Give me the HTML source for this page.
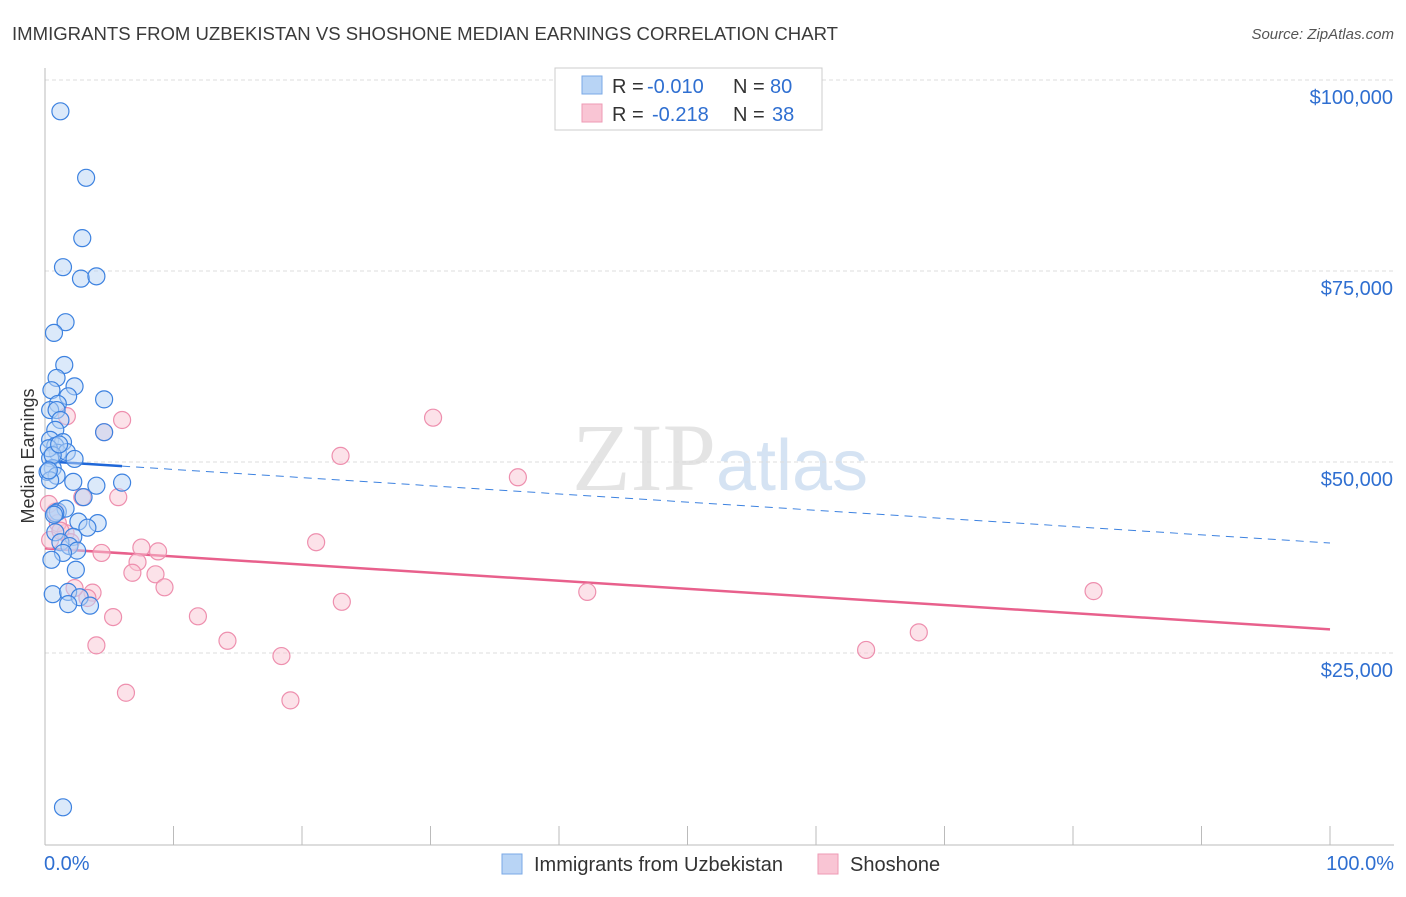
<!DOCTYPE html>
<html><head><meta charset="utf-8"><style>
body{margin:0;background:#fff;font-family:"Liberation Sans",sans-serif}
</style></head><body>
<svg id="chart" width="1406" height="892" xmlns="http://www.w3.org/2000/svg" font-family="Liberation Sans, sans-serif">
<text x="12" y="40" font-size="18" fill="#3a3a3a" textLength="826" lengthAdjust="spacingAndGlyphs">IMMIGRANTS FROM UZBEKISTAN VS SHOSHONE MEDIAN EARNINGS CORRELATION CHART</text>
<text x="1394" y="39" font-size="15" fill="#555" text-anchor="end" font-style="italic">Source: ZipAtlas.com</text>
<text x="720" y="490" font-size="96" text-anchor="middle" fill="#e4e4e4" font-family="Liberation Serif, serif">ZIP<tspan fill="#d5e3f3" font-family="Liberation Sans, sans-serif" font-size="72">atlas</tspan></text>
<text transform="translate(34,456) rotate(-90)" font-size="18" fill="#333" text-anchor="middle">Median Earnings</text>
<g id="grid"></g><g id="axes"></g><g id="trends"></g><g id="points"></g>
<g>
<rect x="555" y="68" width="267" height="62" fill="#fff" stroke="#ccc"/>
<rect x="582" y="76" width="20" height="18" fill="#b8d4f5" stroke="#7aa8e6"/>
<rect x="582" y="104" width="20" height="18" fill="#f9c5d4" stroke="#ee9ab4"/>
<text x="612" y="93" font-size="20" fill="#333">R =</text>
<text x="647" y="93" font-size="20" fill="#2f6fd1">-0.010</text>
<text x="733" y="93" font-size="20" fill="#333">N =</text>
<text x="770" y="93" font-size="20" fill="#2f6fd1">80</text>
<text x="612" y="121" font-size="20" fill="#333">R =</text>
<text x="652" y="121" font-size="20" fill="#2f6fd1">-0.218</text>
<text x="733" y="121" font-size="20" fill="#333">N =</text>
<text x="772" y="121" font-size="20" fill="#2f6fd1">38</text>
</g>
<g>
<rect x="502" y="854" width="20" height="20" fill="#b8d4f5" stroke="#7aa8e6"/>
<text x="534" y="871" font-size="20" fill="#333">Immigrants from Uzbekistan</text>
<rect x="818" y="854" width="20" height="20" fill="#f9c5d4" stroke="#ee9ab4"/>
<text x="850" y="871" font-size="20" fill="#333">Shoshone</text>
</g>
</svg>
<script>
const yTicks=[25000,50000,75000,100000];
const yTickLabels=["$25,000","$50,000","$75,000","$100,000"];
const xTickLabels=["0.0%","100.0%"];
const blueX=[1.2,3.2,2.9,1.4,2.8,4.0,1.6,0.7,1.5,0.9,2.3,0.5,4.6,1.8,1.0,0.4,0.9,1.2,0.8,4.6,0.4,1.4,0.8,1.0,1.7,0.4,2.3,0.6,0.2,0.9,0.4,6.0,2.2,4.0,3.0,1.0,1.6,0.8,4.1,2.6,3.3,0.8,2.2,1.2,1.9,2.5,1.4,0.5,2.4,0.6,1.8,2.7,3.5,1.8,1.4,0.3,0.6,1.1,0.3,0.7];
const blueY=[95.9,87.2,79.3,75.5,74.0,74.3,68.3,66.9,62.7,61.0,59.9,59.4,58.2,58.6,57.6,56.8,56.8,55.5,54.2,53.9,52.9,52.6,52.1,51.2,51.3,50.5,50.4,49.2,48.7,48.2,47.6,47.3,47.4,46.9,45.4,43.5,43.9,43.3,42.0,42.2,41.4,40.8,40.2,39.5,39.0,38.4,38.1,37.2,35.9,32.7,33.0,32.3,31.2,31.4,4.8,51.8,50.9,52.3,48.9,43.1];
const pinkX=[1.7,6.0,4.6,30.2,23.0,36.8,5.7,2.9,0.8,1.6,21.1,7.5,8.8,4.4,7.2,6.8,8.6,9.3,3.7,3.3,42.2,81.6,23.1,11.9,5.3,68.0,14.2,4.0,63.9,18.4,6.3,19.1,0.4,2.3,1.0,0.3,1.2,2.0];
const pinkY=[56.0,55.5,53.9,55.8,50.8,48.0,45.4,45.4,43.5,40.7,39.5,38.8,38.3,38.1,36.9,35.5,35.3,33.6,32.9,32.2,33.0,33.1,31.7,29.8,29.7,27.7,26.6,26.0,25.4,24.6,19.8,18.8,39.8,33.5,42.0,44.5,41.0,39.5];
const blueTrend=[50.1,39.4];
const pinkTrend=[38.7,28.1];
const NS="http://www.w3.org/2000/svg";
const X0=45,X1=1330,YT=80,PX=191/25000;
const sx=p=>X0+(X1-X0)*p/100;
const sy=v=>YT+(100000-v)*PX;
function mk(tag,at,parent){const e=document.createElementNS(NS,tag);for(const k in at)e.setAttribute(k,at[k]);document.getElementById(parent).appendChild(e);return e;}
yTicks.forEach((v,i)=>{
 const g=mk('line',{x1:X0,x2:1394,y1:sy(v),y2:sy(v),stroke:'#ddd','stroke-dasharray':'4,3'},'grid');
 
 
 const t=mk('text',{x:1393,y:sy(v)+24,'font-size':20,fill:'#2f6fd1','text-anchor':'end'},'axes');
 t.textContent=yTickLabels[i];
 
 
});
const ax=mk('line',{x1:X0,x2:X0,y1:68,y2:845,stroke:'#bbb'},'axes');


const bx=mk('line',{x1:X0,x2:1394,y1:845,y2:845,stroke:'#bbb'},'axes');


for(let i=0;i<=10;i++){
 const t=mk('line',{x1:sx(i*10),x2:sx(i*10),y1:826,y2:845,stroke:'#bbb'},'axes');
 
 
}
[[X0-1,'start',0],[1394,'end',1]].forEach(([x,a,i])=>{
 const t=mk('text',{x:x,y:870,'font-size':20,fill:'#2f6fd1','text-anchor':a},'axes');
 t.textContent=xTickLabels[i];
 
 
});
function dot(x,y,fill,stroke,name){
 const c=mk('circle',{cx:sx(x),cy:sy(y*1000),r:8.5,fill:fill,'fill-opacity':0.5,stroke:stroke,'stroke-width':1.2},'points');
 
 
}
pinkX.forEach((x,i)=>dot(x,pinkY[i],'#f9c5d4','#ee8fae','shoshone-point'));
blueX.forEach((x,i)=>dot(x,blueY[i],'#b8d4f5','#3d82e0','uzbekistan-point'));
const bxEnd=6.0, bAt=p=>blueTrend[0]+(blueTrend[1]-blueTrend[0])*p/100;
let l=mk('line',{x1:sx(0),y1:sy(bAt(0)*1000),x2:sx(bxEnd),y2:sy(bAt(bxEnd)*1000),stroke:'#1f67d8','stroke-width':2.5},'trends');


l=mk('line',{x1:sx(bxEnd),y1:sy(bAt(bxEnd)*1000),x2:sx(100),y2:sy(bAt(100)*1000),stroke:'#3d82e0','stroke-width':1,'stroke-dasharray':'8,6'},'trends');


l=mk('line',{x1:sx(0),y1:sy(pinkTrend[0]*1000),x2:sx(100),y2:sy(pinkTrend[1]*1000),stroke:'#e8608c','stroke-width':2.5},'trends');


</script>
</body></html>
